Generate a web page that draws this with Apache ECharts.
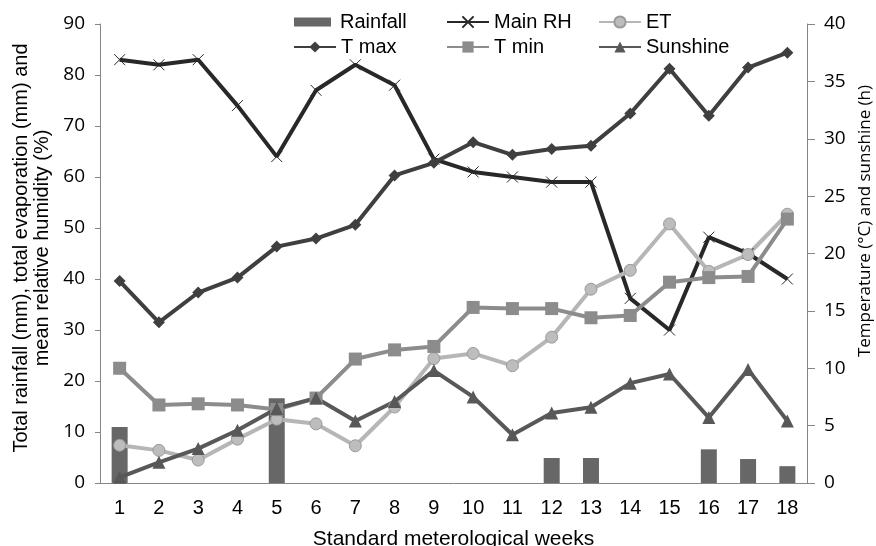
<!DOCTYPE html>
<html>
<head>
<meta charset="utf-8">
<script src="https://cdn.jsdelivr.net/npm/echarts@6/dist/echarts.min.js"></script>
<style>
  html, body { margin: 0; padding: 0; background: #fff; }
  #chart { width: 876px; height: 546px; }
</style>
</head>
<body>
<div id="chart"></div>
<script>
const weeks = ['1', '2', '3', '4', '5', '6', '7', '8', '9', '10', '11', '12', '13', '14', '15', '16', '17', '18']

// left axis (mm, %)
const rainfall = [11.0, 0, 0, 0, 16.6, 0, 0, 0, 0, 0, 0, 4.9, 4.9, 0, 0, 6.6, 4.7, 3.3]
const mainRH = [83, 82, 83, 74, 64, 77, 82, 78, 63.5, 61, 60, 59, 59, 36.2, 30, 48.2, 45, 40]
const et = [7.4, 6.4, 4.5, 8.6, 12.5, 11.6, 7.3, 14.9, 24.4, 25.4, 23.0, 28.6, 38.0, 41.7, 50.8, 41.5, 44.8, 52.7]

// right axis (°C, h)
const tMax = [17.6, 14.0, 16.6, 17.9, 20.6, 21.3, 22.5, 26.8, 27.9, 29.7, 28.6, 29.1, 29.4, 32.2, 36.1, 32.0, 36.2, 37.5]
const tMin = [10.0, 6.8, 6.9, 6.8, 6.4, 7.4, 10.8, 11.6, 11.9, 15.3, 15.2, 15.2, 14.4, 14.6, 17.5, 17.9, 18.0, 23.0]
const sunshine = [0.5, 1.8, 3.0, 4.6, 6.5, 7.4, 5.4, 7.1, 9.8, 7.5, 4.2, 6.1, 6.6, 8.7, 9.5, 5.7, 9.9, 5.4]

const chart = echarts.init(document.getElementById('chart'))

const axisGray = '#868686'
const crossPath = 'path://M0,0L10,10M10,0L0,10'

function legendAt(name, left, top, opts) {
    return Object.assign({
        data: [name],
        left: left,
        top: top,
        itemWidth: 42,
        itemHeight: 14,
        padding: 0,
        textStyle: {
            fontFamily: 'Liberation Sans',
            fontSize: 20,
            color: '#000'
        }
    }, opts || {})
}

const option = {
    animation: false,
    backgroundColor: '#fff',
    legend: [
        legendAt('Rainfall', 294, 12, { itemWidth: 37, itemHeight: 9, icon: 'rect', textStyle: { fontFamily: 'Liberation Sans', fontSize: 20, color: '#000', padding: [0, 0, 0, 4] } }),
        legendAt('T max', 293, 37),
        legendAt('Main RH', 446, 12),
        legendAt('T min', 446, 37),
        legendAt('ET', 598, 12),
        legendAt('Sunshine', 598, 37)
    ],
    grid: {
        left: 100,
        right: 69,
        top: 24,
        bottom: 63,
        outerBoundsMode: 'none'
    },
    xAxis: {
        type: 'category',
        data: weeks,
        name: 'Standard meterological weeks',
        nameLocation: 'middle',
        nameGap: 46,
        nameTextStyle: {
            fontFamily: 'Liberation Sans',
            fontSize: 21,
            color: '#000'
        },
        axisLine: { lineStyle: { color: axisGray, width: 1 } },
        axisTick: { length: 5, lineStyle: { color: axisGray } },
        axisLabel: {
            fontFamily: 'Liberation Sans',
            fontSize: 20,
            color: '#000',
            margin: 15
        }
    },
    yAxis: [
        {
            type: 'value',
            min: 0,
            max: 90,
            interval: 10,
            position: 'left',
            splitLine: { show: false },
            axisLine: { show: true, lineStyle: { color: axisGray } },
            axisTick: { show: true, length: 5, lineStyle: { color: axisGray } },
            axisLabel: {
                fontFamily: 'Open Sans',
                fontSize: 19,
                color: '#000',
                margin: 15
            }
        },
        {
            type: 'value',
            min: 0,
            max: 40,
            interval: 5,
            position: 'right',
            splitLine: { show: false },
            axisLine: { show: true, lineStyle: { color: axisGray } },
            axisTick: { show: true, length: 8, lineStyle: { color: axisGray } },
            axisLabel: {
                fontFamily: 'Open Sans',
                fontSize: 19,
                color: '#000',
                margin: 17
            }
        }
    ],
    graphic: [
        {
            // left axis title
            type: 'text',
            x: 32,
            y: 248,
            rotation: Math.PI / 2,
            style: {
                text: 'Total rainfall (mm), total evaporation (mm) and\nmean relative humidity (%)',
                font: '20px "Liberation Sans"',
                lineHeight: 21,
                fill: '#000',
                align: 'center',
                verticalAlign: 'middle'
            }
        },
        {
            // right axis title
            type: 'text',
            x: 865,
            y: 221,
            rotation: Math.PI / 2,
            style: {
                text: 'Temperature (°C) and sunshine (h)',
                font: '17px "Open Sans"',
                fill: '#000',
                align: 'center',
                verticalAlign: 'middle'
            }
        }
    ],
    series: [
        {
            name: 'Rainfall',
            type: 'bar',
            yAxisIndex: 0,
            data: rainfall,
            barWidth: 16,
            itemStyle: { color: '#676767' }
        },
        {
            name: 'Main RH',
            type: 'line',
            yAxisIndex: 0,
            data: mainRH,
            symbol: crossPath,
            symbolSize: 11,
            lineStyle: { color: '#282828', width: 4 },
            itemStyle: { color: '#282828', borderColor: '#282828', borderWidth: 1 }
        },
        {
            name: 'ET',
            type: 'line',
            yAxisIndex: 0,
            data: et,
            symbol: 'circle',
            symbolSize: 12,
            lineStyle: { color: '#b6b6b6', width: 4 },
            itemStyle: { color: '#bdbdbd', borderColor: '#9a9a9a', borderWidth: 1 }
        },
        {
            name: 'T max',
            type: 'line',
            yAxisIndex: 1,
            data: tMax,
            symbol: 'diamond',
            symbolSize: 12,
            lineStyle: { color: '#3f3f3f', width: 4 },
            itemStyle: { color: '#3f3f3f' }
        },
        {
            name: 'T min',
            type: 'line',
            yAxisIndex: 1,
            data: tMin,
            symbol: 'rect',
            symbolSize: 13,
            lineStyle: { color: '#8c8c8c', width: 4 },
            itemStyle: { color: '#8c8c8c' }
        },
        {
            name: 'Sunshine',
            type: 'line',
            yAxisIndex: 1,
            data: sunshine,
            symbol: 'triangle',
            symbolSize: 13,
            lineStyle: { color: '#585858', width: 4 },
            itemStyle: { color: '#585858' }
        }
    ]
}

chart.setOption(option)
</script>
</body>
</html>
